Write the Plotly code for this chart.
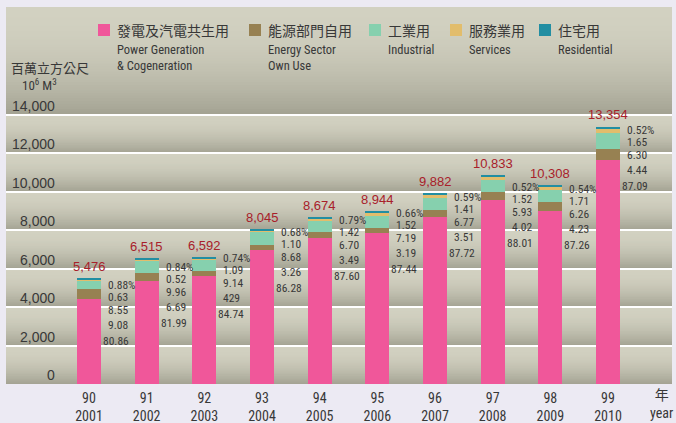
import plotly.graph_objects as go

# ---------------- data ----------------
years_roc = ["90", "91", "92", "93", "94", "95", "96", "97", "98", "99"]
years_ad = ["2001", "2002", "2003", "2004", "2005", "2006", "2007", "2008", "2009", "2010"]
totals = [5476, 6515, 6592, 8045, 8674, 8944, 9882, 10833, 10308, 13354]
pct_power = [80.86, 81.99, 84.74, 86.28, 87.60, 87.44, 87.72, 88.01, 87.26, 87.09]
pct_energy = [9.08, 6.69, 4.29, 3.26, 3.49, 3.19, 3.51, 4.02, 4.23, 4.44]
pct_industrial = [8.55, 9.96, 9.14, 8.68, 6.70, 7.19, 6.77, 5.93, 6.26, 6.30]
pct_services = [0.63, 0.52, 1.09, 1.10, 1.42, 1.52, 1.41, 1.52, 1.71, 1.65]
pct_residential = [0.88, 0.84, 0.74, 0.68, 0.79, 0.66, 0.59, 0.52, 0.54, 0.52]
y_ticks = [0, 2000, 4000, 6000, 8000, 10000, 12000, 14000]

series_cjk = ["發電及汽電共生用", "能源部門自用", "工業用", "服務業用", "住宅用"]
series_eng = ["Power Generation<br>& Cogeneration", "Energy Sector<br>Own Use",
              "Industrial", "Services", "Residential"]
label_override = {("2003", 3): "429"}  # as printed in the original

# ---------------- style ----------------
W, H = 676, 423
PL, PR, PT, PB = 6, 672, 7, 384          # plot area in pixels
Y_TOP = (PB - PT) / 38.5 * 2000
X_LO, X_HI = -1.44, 10.11
colors = ["#f0579a", "#978152", "#86d0ae", "#e2bd6c", "#228ea2"]
legend_sq_x = [98, 249, 369, 450, 539]
NARROW = "Roboto Condensed, DejaVu Sans Condensed, sans-serif"
ARIAL = "Liberation Sans, Arial, sans-serif"
CJK = "Noto Sans CJK TC, Noto Sans CJK SC, sans-serif"
TXT = "#383838"
pct_offsets = [3, 15, 28, 43, 59]
extra_shift = {"2001": 3, "2002": 5, "2008": 9, "2003": -2, "2006": -2}


def pxx(x):
    return (x - PL) / (PR - PL)


def pxy(y):
    return (PB - y) / (PB - PT)


x_idx = list(range(len(years_ad)))
fig = go.Figure()

stack = [pct_power, pct_energy, pct_industrial, pct_services, pct_residential]
for k, pct in enumerate(stack):
    vals = [t * p / 100.0 for t, p in zip(totals, pct)]
    fig.add_trace(go.Bar(
        x=x_idx, y=vals, width=0.416, name=series_cjk[k],
        marker=dict(color=colors[k], line=dict(width=0)),
        showlegend=False, hoverinfo="skip"))

# ---------------- background bands (gradient) ----------------
shapes = []
bounds = y_ticks + [Y_TOP]
light = (210, 209, 193)
dark = (163, 162, 146)
for b in range(len(bounds) - 1):
    lo, hi = bounds[b], bounds[b + 1]
    n = 40 if b == len(bounds) - 2 else 24
    step = (hi - lo) / n
    for s in range(n):
        t = (s + 0.5) / n  # 0 at top, 1 at bottom
        f = t ** 2
        c = tuple(int(round(light[i] + (dark[i] - light[i]) * f)) for i in range(3))
        y1 = hi - s * step
        y0 = max(lo, y1 - step * 1.6)
        shapes.append(dict(type="rect", xref="paper", yref="y", x0=0, x1=1,
                           y0=y0, y1=y1, line=dict(width=0),
                           fillcolor="rgb(%d,%d,%d)" % c, layer="below"))

# ---------------- annotations ----------------
ann = []
# y tick labels (placed above gridlines)
for v in y_ticks:
    ann.append(dict(xref="paper", yref="y", x=pxx(57), y=v, yshift=9,
                    xanchor="right", yanchor="middle", showarrow=False,
                    text=f"{v:,}", font=dict(family=ARIAL, size=14, color=TXT)))
# unit label
ann.append(dict(xref="paper", yref="paper", x=pxx(9), y=pxy(67), xanchor="left",
                yanchor="middle", showarrow=False, text="百萬立方公尺",
                font=dict(family=CJK, size=13, color=TXT)))
ann.append(dict(xref="paper", yref="paper", x=pxx(39), y=pxy(85), xanchor="center",
                yanchor="middle", showarrow=False, text="10<sup>6</sup> M<sup>3</sup>",
                font=dict(family=NARROW, size=13, color=TXT)))
# totals
for i, t in enumerate(totals):
    ann.append(dict(x=i, y=t, yshift=12, xanchor="center", yanchor="middle",
                    showarrow=False, text=f"{t:,}",
                    font=dict(family=ARIAL, size=13, color="#a8202a")))
# percentages
pct_list = [pct_residential, pct_services, pct_industrial, pct_energy, pct_power]
for i, yr in enumerate(years_ad):
    for j, pct in enumerate(pct_list):
        txt = f"{pct[i]:.2f}"
        if j == 0:
            txt += "%"
        if (yr, j) in label_override:
            txt = label_override[(yr, j)]
        xs = 17 if j < 4 else 12
        ys = -(pct_offsets[j] + extra_shift.get(yr, 0))
        ann.append(dict(x=i, y=totals[i], xshift=xs, yshift=ys, xanchor="left",
                        yanchor="middle", showarrow=False, text=txt,
                        font=dict(family=NARROW, size=11.5, color=TXT)))
# "year" label at axis end
ann.append(dict(xref="paper", yref="paper", x=pxx(661), y=pxy(385), xanchor="center",
                yanchor="top", showarrow=False, text="年<br>year",
                font=dict(family=NARROW + ", " + CJK, size=14, color=TXT)))
# legend
for k in range(5):
    sx = legend_sq_x[k]
    shapes.append(dict(type="rect", xref="paper", yref="paper",
                       x0=pxx(sx), x1=pxx(sx + 12), y0=pxy(36), y1=pxy(24),
                       line=dict(width=0), fillcolor=colors[k], layer="above"))
    ann.append(dict(xref="paper", yref="paper", x=pxx(sx + 17), y=pxy(30),
                    xanchor="left", yanchor="middle", showarrow=False,
                    text=series_cjk[k], font=dict(family=CJK, size=14, color=TXT)))
    ann.append(dict(xref="paper", yref="paper", x=pxx(sx + 17), y=pxy(40),
                    xanchor="left", yanchor="top", align="left", showarrow=False,
                    text=series_eng[k], font=dict(family=NARROW, size=12.5, color=TXT)))

fig.update_layout(
    width=W, height=H,
    margin=dict(l=PL, r=W - PR, t=PT, b=H - PB, pad=0, autoexpand=False),
    paper_bgcolor="#eceaf3", plot_bgcolor="#c8c7b4",
    barmode="stack", bargap=0,
    showlegend=False,
    shapes=shapes, annotations=ann,
    xaxis=dict(range=[X_LO, X_HI], tickvals=x_idx, automargin=False,
               ticktext=[f"{a}<br>{b}" for a, b in zip(years_roc, years_ad)],
               tickfont=dict(family=NARROW, size=14, color=TXT),
               showgrid=False, zeroline=False, ticks="outside", ticklen=1,
               tickcolor="rgba(0,0,0,0)", showline=False, fixedrange=True),
    yaxis=dict(range=[0, Y_TOP], tickvals=y_ticks, showticklabels=False,
               automargin=False,
               showgrid=True, gridcolor="white", gridwidth=2, zeroline=False,
               ticks="", showline=False, fixedrange=True),
)

fig.write_html("out.html", config={"displayModeBar": False},
               post_script="document.body.style.margin='0';")
